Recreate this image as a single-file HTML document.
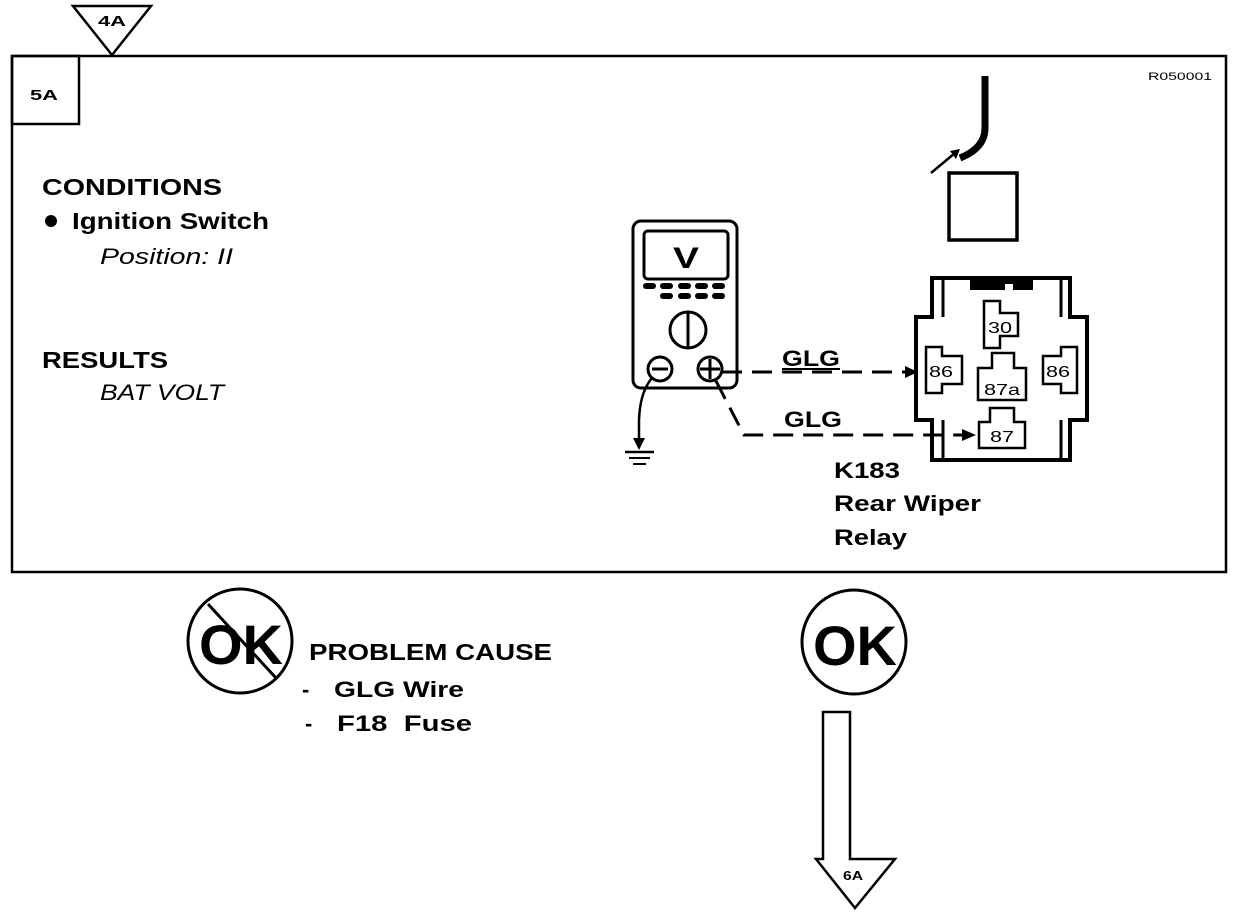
<!DOCTYPE html>
<html><head><meta charset="utf-8"><style>
html,body{margin:0;padding:0;background:#fff;}
svg{display:block;}
text{font-family:"Liberation Sans",Arial,sans-serif;font-weight:bold;fill:#000;}
</style></head><body>
<svg width="1248" height="916" viewBox="0 0 1248 916" xmlns="http://www.w3.org/2000/svg">
<!-- main frame -->
<rect x="12" y="56" width="1214" height="516" fill="none" stroke="#000" stroke-width="2.5"/>
<rect x="12" y="56" width="67" height="68" fill="none" stroke="#000" stroke-width="2.5"/>
<text x="30" y="100" font-size="15" textLength="28" lengthAdjust="spacingAndGlyphs">5A</text>
<!-- 4A triangle -->
<polygon points="73,6 151,6 112,55" fill="#fff" stroke="#000" stroke-width="2.5"/>
<text x="98" y="26" font-size="15" textLength="28" lengthAdjust="spacingAndGlyphs">4A</text>
<text x="1148" y="80" font-size="11" font-weight="normal" textLength="64" lengthAdjust="spacingAndGlyphs" style="font-weight:normal">R050001</text>

<!-- left texts -->
<text x="42" y="195" font-size="23" textLength="180" lengthAdjust="spacingAndGlyphs">CONDITIONS</text>
<circle cx="51" cy="221" r="6" fill="#000"/>
<text x="72" y="229" font-size="23" textLength="197" lengthAdjust="spacingAndGlyphs">Ignition Switch</text>
<text x="100" y="264" font-size="22" font-style="italic" style="font-weight:normal" textLength="133" lengthAdjust="spacingAndGlyphs">Position: II</text>
<text x="42" y="368" font-size="23" textLength="126" lengthAdjust="spacingAndGlyphs">RESULTS</text>
<text x="100" y="400" font-size="22" font-style="italic" style="font-weight:normal" textLength="124" lengthAdjust="spacingAndGlyphs">BAT VOLT</text>

<!-- multimeter -->
<rect x="633" y="221" width="104" height="167" rx="8" fill="none" stroke="#000" stroke-width="3"/>
<rect x="644" y="231" width="84" height="48" rx="4" fill="none" stroke="#000" stroke-width="3"/>
<text x="673" y="268" font-size="30" textLength="26" lengthAdjust="spacingAndGlyphs">V</text>
<g fill="#000">
<rect x="643" y="283" width="13" height="6" rx="3"/><rect x="660" y="283" width="13" height="6" rx="3"/><rect x="678" y="283" width="13" height="6" rx="3"/><rect x="695" y="283" width="13" height="6" rx="3"/><rect x="712" y="283" width="13" height="6" rx="3"/>
<rect x="660" y="293" width="13" height="6" rx="3"/><rect x="678" y="293" width="13" height="6" rx="3"/><rect x="695" y="293" width="13" height="6" rx="3"/><rect x="712" y="293" width="13" height="6" rx="3"/>
</g>
<circle cx="688" cy="330" r="18" fill="none" stroke="#000" stroke-width="3"/>
<line x1="688" y1="313" x2="688" y2="347" stroke="#000" stroke-width="3"/>
<circle cx="660" cy="369" r="12" fill="#fff" stroke="#000" stroke-width="3"/>
<line x1="652" y1="369" x2="668" y2="369" stroke="#000" stroke-width="3"/>
<circle cx="710" cy="369" r="12" fill="#fff" stroke="#000" stroke-width="3"/>
<line x1="700" y1="369" x2="720" y2="369" stroke="#000" stroke-width="3"/>
<line x1="710" y1="359" x2="710" y2="379" stroke="#000" stroke-width="3"/>
<!-- ground lead -->
<path d="M652,378 Q640,392 639,420 L639,448" fill="none" stroke="#000" stroke-width="2.5"/>
<polygon points="633,438 645,438 639,450" fill="#000"/>
<line x1="625" y1="452" x2="654" y2="452" stroke="#000" stroke-width="2.5"/>
<line x1="629" y1="458" x2="650" y2="458" stroke="#000" stroke-width="2"/>
<line x1="633" y1="464" x2="646" y2="464" stroke="#000" stroke-width="2"/>
<!-- leads -->
<path d="M722,372 L910,372" fill="none" stroke="#000" stroke-width="3" stroke-dasharray="20,10"/>
<polygon points="905,366 918,372 905,378" fill="#000"/>
<path d="M716,381 L744,435 L970,435" fill="none" stroke="#000" stroke-width="3" stroke-dasharray="20,10"/>
<polygon points="962,429 976,435 962,441" fill="#000"/>
<text x="782" y="366" font-size="22" textLength="58" lengthAdjust="spacingAndGlyphs">GLG</text>
<text x="784" y="427" font-size="22" textLength="58" lengthAdjust="spacingAndGlyphs">GLG</text>
<line x1="782" y1="369" x2="840" y2="369" stroke="#000" stroke-width="2"/>

<!-- wire + arrow + square -->
<path d="M985,76 L985,128 Q985,148 960,158" fill="none" stroke="#000" stroke-width="7"/>
<line x1="931" y1="173" x2="955" y2="153" stroke="#000" stroke-width="2.5"/>
<polygon points="950,151 960,149 956,159" fill="#000"/>
<rect x="949" y="173" width="68" height="67" fill="none" stroke="#000" stroke-width="3.5"/>

<!-- relay -->
<path d="M932,278 L1070,278 L1070,317 L1087,317 L1087,420 L1070,420 L1070,460 L932,460 L932,420 L916,420 L916,317 L932,317 Z" fill="none" stroke="#000" stroke-width="4"/>
<line x1="943" y1="280" x2="943" y2="317" stroke="#000" stroke-width="3"/>
<line x1="1061" y1="280" x2="1061" y2="317" stroke="#000" stroke-width="3"/>
<line x1="943" y1="420" x2="943" y2="458" stroke="#000" stroke-width="3"/>
<line x1="1061" y1="420" x2="1061" y2="458" stroke="#000" stroke-width="3"/>
<rect x="970" y="278" width="35" height="12" fill="#000"/>
<rect x="1013" y="278" width="20" height="12" fill="#000"/>
<rect x="1005" y="278" width="8" height="6" fill="#000"/>
<!-- terminals -->
<g fill="none" stroke="#000" stroke-width="2.5">
<path d="M984,301 L1000,301 L1000,313 L1018,313 L1018,336 L1000,336 L1000,348 L984,348 Z"/>
<path d="M926,347 L942,347 L942,356 L962,356 L962,384 L942,384 L942,393 L926,393 Z"/>
<path d="M1077,347 L1061,347 L1061,356 L1043,356 L1043,384 L1061,384 L1061,393 L1077,393 Z"/>
<path d="M992,353 L1014,353 L1014,368 L1026,368 L1026,400 L978,400 L978,368 L992,368 Z"/>
<path d="M990,408 L1014,408 L1014,422 L1025,422 L1025,448 L979,448 L979,422 L990,422 Z"/>
</g>
<text x="988" y="333" font-size="16" textLength="24" lengthAdjust="spacingAndGlyphs" style="font-weight:normal">30</text>
<text x="929" y="377" font-size="16" textLength="24" lengthAdjust="spacingAndGlyphs" style="font-weight:normal">86</text>
<text x="1046" y="377" font-size="16" textLength="24" lengthAdjust="spacingAndGlyphs" style="font-weight:normal">86</text>
<text x="984" y="395" font-size="16" textLength="36" lengthAdjust="spacingAndGlyphs" style="font-weight:normal">87a</text>
<text x="990" y="442" font-size="16" textLength="24" lengthAdjust="spacingAndGlyphs" style="font-weight:normal">87</text>
<text x="834" y="478" font-size="22" textLength="66" lengthAdjust="spacingAndGlyphs">K183</text>
<text x="834" y="511" font-size="22" textLength="147" lengthAdjust="spacingAndGlyphs">Rear Wiper</text>
<text x="834" y="545" font-size="22" textLength="73" lengthAdjust="spacingAndGlyphs">Relay</text>

<!-- not OK -->
<circle cx="240" cy="641" r="52" fill="none" stroke="#000" stroke-width="3"/>
<text x="199" y="664" font-size="56" textLength="84" lengthAdjust="spacingAndGlyphs">OK</text>
<line x1="208" y1="604" x2="276" y2="678" stroke="#000" stroke-width="3"/>
<text x="309" y="660" font-size="23" textLength="243" lengthAdjust="spacingAndGlyphs">PROBLEM CAUSE</text>
<text x="302" y="697" font-size="22">-</text>
<text x="334" y="697" font-size="22" textLength="130" lengthAdjust="spacingAndGlyphs">GLG Wire</text>
<text x="305" y="731" font-size="22">-</text>
<text x="337" y="731" font-size="22" textLength="135" lengthAdjust="spacingAndGlyphs" xml:space="preserve">F18  Fuse</text>

<!-- OK -->
<circle cx="854" cy="642" r="52" fill="none" stroke="#000" stroke-width="3"/>
<text x="813" y="665" font-size="56" textLength="84" lengthAdjust="spacingAndGlyphs">OK</text>
<!-- down arrow -->
<polygon points="823,712 850,712 850,859 895,859 855,908 816,859 823,859" fill="#fff" stroke="#000" stroke-width="2.5"/>
<text x="843" y="880" font-size="13" textLength="20" lengthAdjust="spacingAndGlyphs">6A</text>
</svg>
</body></html>
